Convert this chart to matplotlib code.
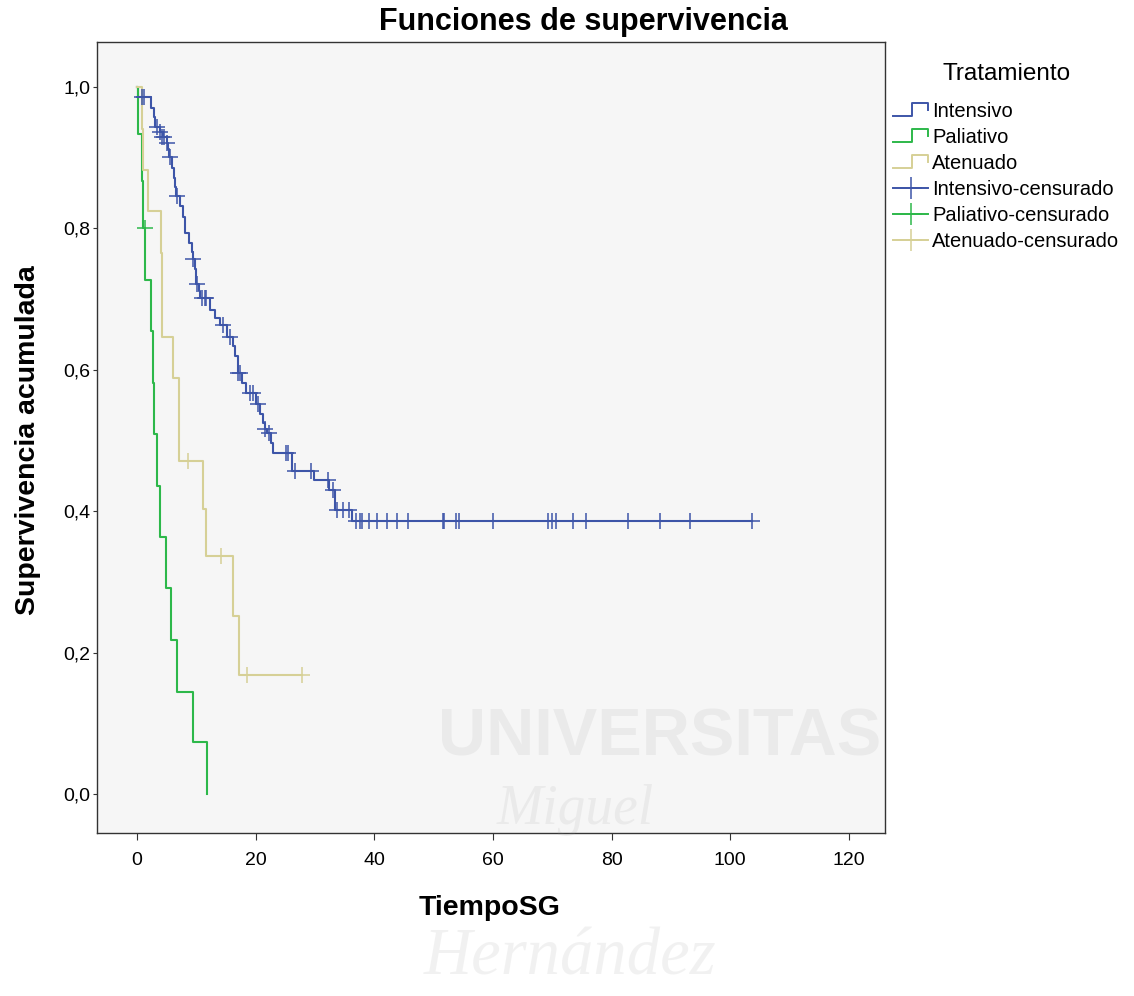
import matplotlib
matplotlib.use("Agg")
import matplotlib.pyplot as plt
from matplotlib.lines import Line2D
from matplotlib.legend_handler import HandlerBase

plt.rcParams['font.family'] = ['Liberation Sans', 'DejaVu Sans']

# Kaplan-Meier steps per treatment group (time, cumulative survival after the drop)
int_t = [0, 0.2, 2.4, 2.8, 3.1, 3.9, 4.4, 5.0, 5.2, 5.4, 5.9, 6.2, 6.4, 6.6,
         7.2, 7.8, 8.1, 8.7, 9.2, 9.4, 9.7, 10.0, 10.4, 10.7, 12.3, 13.2, 14.0,
         15.1, 16.2, 16.6, 17.0, 17.7, 18.3, 20.1, 20.8, 21.2, 21.5, 22.0, 22.6,
         23.0, 26.2, 29.8, 32.45, 33.4, 36.2, 103.6]
int_s = [1.0, 0.986, 0.971, 0.957, 0.943, 0.936, 0.929, 0.921, 0.913, 0.901,
         0.886, 0.872, 0.858, 0.846, 0.831, 0.816, 0.793, 0.78, 0.767, 0.757,
         0.742, 0.722, 0.711, 0.701, 0.685, 0.674, 0.663, 0.647, 0.633, 0.619,
         0.596, 0.582, 0.567, 0.551, 0.538, 0.525, 0.517, 0.51, 0.496, 0.482,
         0.457, 0.444, 0.43, 0.402, 0.386, 0.386]

pal_t = [0, 0.17, 0.84, 1.1, 1.43, 2.3, 2.75, 2.8, 3.4, 3.9, 4.85, 5.7, 6.75, 9.4, 11.75]
pal_s = [1.0, 0.933, 0.867, 0.8, 0.727, 0.655, 0.582, 0.509, 0.436, 0.364,
         0.291, 0.218, 0.145, 0.073, 0.0]

ate_t = [0, 0.8, 1.06, 1.9, 4.0, 4.15, 4.2, 6.0, 7.1, 7.15, 11.2, 11.7, 16.2, 17.2, 27.9]
ate_s = [1.0, 0.941, 0.882, 0.824, 0.765, 0.706, 0.647, 0.588, 0.529, 0.471,
         0.403, 0.336, 0.252, 0.168, 0.168]

# censored observations
int_ct = [0.8, 1.2, 3.3, 3.95, 4.25, 4.6, 5.05, 5.56, 6.7, 9.5, 10.1, 10.9, 11.5,
          11.7, 14.5, 15.7, 17.1, 17.4, 19.0, 19.6, 20.4, 21.6, 22.2, 25.2, 25.4,
          26.6, 29.4, 32.2, 33.1, 33.7, 34.8, 35.8, 37.0, 37.6, 37.9, 39.1, 40.5,
          42.1, 43.8, 45.7, 51.5, 51.7, 53.7, 54.3, 60.0, 69.3, 69.9, 70.6, 73.5,
          75.6, 82.8, 88.1, 93.2, 103.6]
int_cs = [0.986, 0.986, 0.943, 0.936, 0.929, 0.929, 0.921, 0.901, 0.846, 0.757,
          0.722, 0.701, 0.701, 0.701, 0.663, 0.647, 0.596, 0.596, 0.567, 0.567,
          0.551, 0.517, 0.51, 0.482, 0.482, 0.457, 0.457, 0.444, 0.43, 0.402,
          0.402, 0.402, 0.386, 0.386, 0.386, 0.386, 0.386, 0.386, 0.386, 0.386,
          0.386, 0.386, 0.386, 0.386, 0.386, 0.386, 0.386, 0.386, 0.386, 0.386,
          0.386, 0.386, 0.386, 0.386]
pal_ct = [1.3]
pal_cs = [0.8]
ate_ct = [8.65, 14.2, 18.6, 27.9]
ate_cs = [0.471, 0.336, 0.168, 0.168]

groups = ["Intensivo", "Paliativo", "Atenuado"]
colors = ["#3d55a8", "#2db84a", "#d6d096"]

x_ticks = [0, 20, 40, 60, 80, 100, 120]
y_ticks = [0.0, 0.2, 0.4, 0.6, 0.8, 1.0]
y_labels = ["0,0", "0,2", "0,4", "0,6", "0,8", "1,0"]


class StepIcon(HandlerBase):
    def create_artists(self, legend, orig_handle, xdescent, ydescent,
                       width, height, fontsize, trans):
        x0 = -xdescent
        x1 = x0 + width
        xm = x0 + 0.55 * width
        lo = -ydescent + 0.05 * height
        hi = -ydescent + 0.95 * height
        ln = Line2D([x0, xm, xm, x1, x1], [lo, lo, hi, hi, 0.5 * (lo + hi)],
                    color=orig_handle.get_color(), lw=orig_handle.get_linewidth(),
                    transform=trans)
        return [ln]


fig = plt.figure(figsize=(11.34, 9.96), dpi=100)
ax = fig.add_axes([0.0855, 0.1637, 0.6949, 0.7941])
ax.set_facecolor("#f6f6f6")

curves = [(int_t, int_s), (pal_t, pal_s), (ate_t, ate_s)]
cens = [(int_ct, int_cs), (pal_ct, pal_cs), (ate_ct, ate_cs)]
for (t, s), col in zip(curves, colors):
    ax.step(t, s, where="post", color=col, lw=1.5, zorder=3)
for (t, s), col in zip(cens, colors):
    ax.plot(t, s, linestyle="none", marker="+", ms=12, mew=1.1, color=col, zorder=4)

ax.set_xlim(-6.74, 126.07)
ax.set_ylim(-0.055, 1.0636)
ax.set_xticks(x_ticks)
ax.set_xticklabels([str(v) for v in x_ticks])
ax.set_yticks(y_ticks)
ax.set_yticklabels(y_labels)
ax.tick_params(labelsize=14, direction="out", color="#333333")
ax.tick_params(axis="x", length=5, pad=9)
ax.tick_params(axis="y", length=3, pad=2)
for sp in ax.spines.values():
    sp.set_color("#333333")
    sp.set_linewidth(1.0)

fig.text(583 / 1134, 1 - 22 / 996, "Funciones de supervivencia", ha="center",
         va="center", fontsize=22, fontweight="bold")
fig.text(28 / 1134, 1 - 440 / 996, "Supervivencia acumulada", ha="center",
         va="center", rotation=90, fontsize=20.5, fontweight="bold")
fig.text(490 / 1134, 1 - 908 / 996, "TiempoSG", ha="center", va="center",
         fontsize=20.5, fontweight="bold")

# legend: step icons for curves, crosses for censored cases
handles = [Line2D([], [], color=c, lw=1.4) for c in colors]
handles += [Line2D([], [], color=c, lw=1.4, marker="+", ms=16, mew=1.1) for c in colors]
labels = groups + [g + "-censurado" for g in groups]
step_map = {h: StepIcon() for h in handles[:3]}
leg = fig.legend(handles, labels, title="Tratamiento", loc="upper left",
                 bbox_to_anchor=(893 / 1134, 1 - 63 / 996), frameon=False,
                 fontsize=14.5, title_fontsize=17.5, handlelength=1.75,
                 handletextpad=0.2, labelspacing=0.35, borderpad=0,
                 borderaxespad=0, handler_map=step_map)
leg._legend_box.sep = 12

# faint institutional watermark
wm = dict(color="#9a9a9a", alpha=0.13, zorder=10)
fig.text(660 / 1134, 1 - 738 / 996, "UNIVERSITAS", ha="center", va="center",
         fontsize=48, fontweight="bold", **wm)
fig.text(575 / 1134, 1 - 810 / 996, "Miguel", ha="center", va="center",
         fontsize=40, style="italic", family="Liberation Serif", **wm)
fig.text(570 / 1134, 1 - 958 / 996, "Hernández", ha="center", va="center",
         fontsize=48, style="italic", family="Liberation Serif", **wm)

fig.savefig("out.png", dpi=100, facecolor="white")
